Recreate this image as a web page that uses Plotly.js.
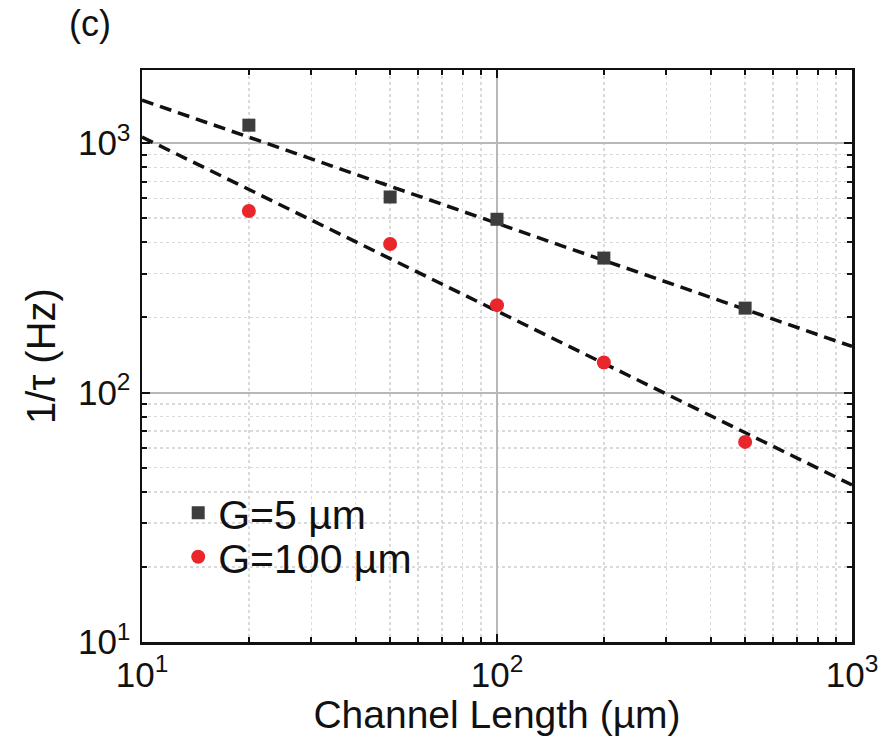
<!DOCTYPE html>
<html>
<head>
<meta charset="utf-8">
<script src="https://cdn.plot.ly/plotly-3.0.1.min.js"></script>
<style>html,body{margin:0;padding:0;background:#fff;}#chart{width:894px;height:743px;}</style>
</head>
<body>
<div id="chart"></div>
<script>
const channelLength = [20, 50, 100, 200, 500];
const rateG5 = [1180, 608, 495, 346, 218];
const rateG100 = [534, 394, 224, 132, 63.4];
const fitX = [10, 1000];
const fitG5 = [1487, 153];
const fitG100 = [1057, 42.6];
const xTickVals = [10, 100, 1000];
const xTickText = ['10<sup>1</sup>', '10<sup>2</sup>', '10<sup>3</sup>'];
const yTickVals = [10, 100, 1000];
const yTickText = ['10<sup>1</sup>', '10<sup>2</sup>', '10<sup>3</sup>'];
const minorVals = [20, 30, 40, 50, 60, 70, 80, 90, 200, 300, 400, 500, 600, 700, 800, 900];

const traces = [
  {x: fitX, y: fitG5, mode: 'lines', line: {color: '#111', width: 3.5, dash: '12px,7px'}, showlegend: false, hoverinfo: 'skip'},
  {x: fitX, y: fitG100, mode: 'lines', line: {color: '#111', width: 3.5, dash: '12px,7px'}, showlegend: false, hoverinfo: 'skip'},
  {x: channelLength, y: rateG5, mode: 'markers', name: 'G=5 µm', legend: 'legend',
   marker: {symbol: 'square', size: 13, color: '#3d3d3d'}},
  {x: channelLength, y: rateG100, mode: 'markers', name: 'G=100 µm', legend: 'legend2',
   marker: {symbol: 'circle', size: 14, color: '#e8262b'}}
];

function axis(extra) {
  return Object.assign({
    type: 'log', showline: true, linecolor: '#111', linewidth: 2.5, mirror: 'allticks',
    ticks: 'inside', ticklen: 8, tickwidth: 2, tickcolor: '#111',
    showgrid: true, gridcolor: '#b8b8b8', gridwidth: 2, zeroline: false,
    tickfont: {family: 'Liberation Sans, Arial, sans-serif', size: 35, color: '#111'},
    minor: {tickmode: 'array', tickvals: minorVals, ticks: 'inside', ticklen: 5, tickwidth: 2, tickcolor: '#111',
      showgrid: true, gridcolor: '#dadada', griddash: 'dot', gridwidth: 1.5}
  }, extra);
}

const legendCommon = {xanchor: 'left', yanchor: 'top', bgcolor: 'rgba(0,0,0,0)',
  font: {size: 41, color: '#111'}, itemwidth: 30};

const layout = {
  width: 894, height: 743,
  margin: {l: 142, r: 42, t: 70, b: 101},
  paper_bgcolor: '#fff', plot_bgcolor: '#fff',
  font: {family: 'Liberation Sans, Arial, sans-serif', color: '#111'},
  xaxis: axis({
    range: [1, 3], tickmode: 'array', tickvals: xTickVals, ticktext: xTickText, ticklabelstandoff: 0,
    title: {text: 'Channel Length (µm)', font: {size: 39, color: '#111'}, standoff: 0}
  }),
  yaxis: axis({
    range: [1, 3.293], tickmode: 'array', tickvals: yTickVals, ticktext: yTickText, ticklabelstandoff: 2,
    title: {text: '1/τ (Hz)', font: {size: 40, color: '#111'}, standoff: 10}
  }),
  legend: Object.assign({x: 0.051, y: 0.284}, legendCommon),
  legend2: Object.assign({x: 0.051, y: 0.207}, legendCommon),
  annotations: [{text: '(c)', xref: 'paper', yref: 'paper', x: -0.073, y: 1.12, xanchor: 'center', yanchor: 'top',
    showarrow: false, font: {size: 36, color: '#111'}}],
  showlegend: true
};

Plotly.newPlot('chart', traces, layout, {staticPlot: true});
</script>
</body>
</html>
